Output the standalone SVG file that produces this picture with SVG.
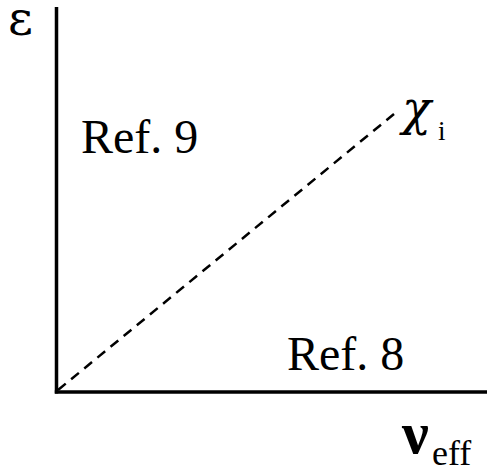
<svg xmlns="http://www.w3.org/2000/svg" width="487" height="468" viewBox="0 0 487 468">
<style>
.t{font-family:"Liberation Serif","DejaVu Serif",serif;fill:#000}
.g{font-family:"DejaVu Serif",serif;fill:#000}
.ax{stroke:#000;stroke-width:3.5;fill:none}
</style>
<rect width="487" height="468" fill="#fff"/>
<g id="axes">
<line class="ax" x1="56.5" y1="7" x2="56.5" y2="393.5"/>
<line class="ax" x1="54.8" y1="392" x2="487" y2="392"/>
</g>
<g id="connectors">
<line x1="58" y1="390" x2="394" y2="114" stroke="#000" stroke-width="2.5" stroke-dasharray="10,7"/>
</g>
<g id="label-eps"><text class="g" x="8" y="35" font-size="48">ε</text></g>
<g id="label-ref9"><text class="t" x="81" y="153" font-size="48">Ref. 9</text></g>
<g id="label-ref8"><text class="t" x="287" y="370" font-size="48">Ref. 8</text></g>
<g id="label-chi"><text class="g" x="402" y="125" font-size="48" font-style="italic">χ</text><text class="t" x="438" y="140" font-size="27">i</text></g>
<g id="label-nu"><text class="t" x="402" y="453" font-size="60" font-weight="bold">ν</text><text class="t" x="432" y="465" font-size="36">eff</text></g>
</svg>
